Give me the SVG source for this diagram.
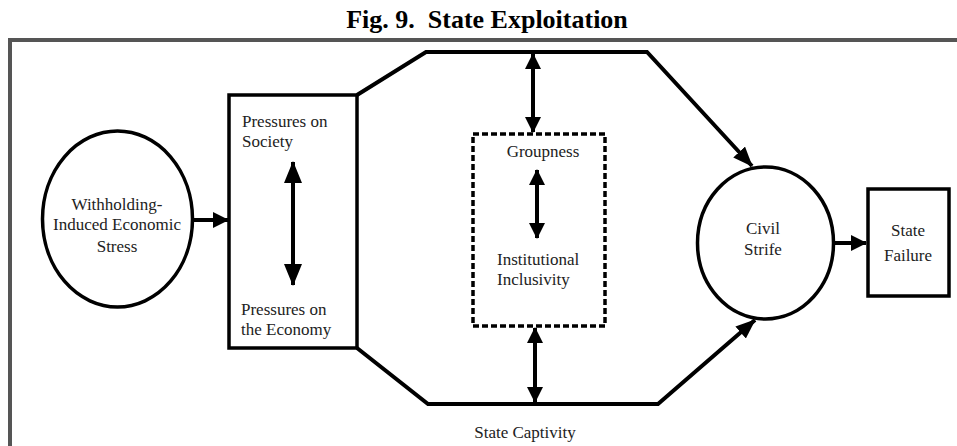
<svg xmlns="http://www.w3.org/2000/svg" width="957" height="446" viewBox="0 0 957 446">
<style>
.t{font-family:"Liberation Serif","Times New Roman",serif;font-size:17px;fill:#222}
.c{text-anchor:middle}
.ttl{font-family:"Liberation Serif","Times New Roman",serif;font-size:26px;font-weight:bold;fill:#000;text-anchor:middle}
.shape{fill:none;stroke:#000;stroke-width:3.5}
.ln{fill:none;stroke:#000;stroke-width:4}
.dash{fill:none;stroke:#000;stroke-width:3.5;stroke-dasharray:6 3}
</style>
<defs>
<marker id="ah" markerUnits="userSpaceOnUse" markerWidth="16" markerHeight="16" viewBox="0 0 16 16" refX="15" refY="8" orient="auto-start-reverse">
<path d="M0,0 L16,8 L0,16 Z" fill="#000"/>
</marker>
<marker id="ahL" markerUnits="userSpaceOnUse" markerWidth="22" markerHeight="18" viewBox="0 0 22 18" refX="21" refY="9" orient="auto-start-reverse">
<path d="M0,0 L22,9 L0,18 Z" fill="#000"/>
</marker>
<marker id="ahS" markerUnits="userSpaceOnUse" markerWidth="20" markerHeight="16" viewBox="0 0 20 16" refX="19" refY="8" orient="auto">
<path d="M0,0 L20,8 L0,16 Z" fill="#000"/>
</marker>
</defs>
<rect width="957" height="446" fill="#fff"/>
<text class="ttl" x="487" y="28">Fig. 9.&#160; State Exploitation</text>
<path d="M10,446 L10,40 L957,40" fill="none" stroke="#555" stroke-width="4"/>

<g id="withholding">
<ellipse class="shape" cx="117.5" cy="219" rx="75" ry="88"/>
<text class="t c" x="117" y="210">Withholding-</text>
<text class="t c" x="117" y="230">Induced Economic</text>
<text class="t c" x="117" y="252">Stress</text>
</g>

<g id="pressures">
<rect class="shape" x="229" y="95" width="128" height="253"/>
<text class="t" x="242" y="127">Pressures on</text>
<text class="t" x="242" y="147">Society</text>
<text class="t" x="241" y="315">Pressures on</text>
<text class="t" x="241" y="335">the Economy</text>
</g>

<g id="groupness">
<rect class="dash" x="473" y="134" width="132" height="192"/>
<text class="t c" x="543" y="157">Groupness</text>
<text class="t" x="497" y="265">Institutional</text>
<text class="t" x="497" y="285">Inclusivity</text>
</g>

<g id="civil-strife">
<ellipse class="shape" cx="765.5" cy="243" rx="68" ry="76"/>
<text class="t c" x="763" y="234">Civil</text>
<text class="t c" x="763" y="255">Strife</text>
</g>

<g id="state-failure">
<rect class="shape" x="868" y="189" width="81" height="107"/>
<text class="t c" x="908" y="236">State</text>
<text class="t c" x="908" y="261">Failure</text>
</g>

<g id="state-captivity">
<text class="t c" x="525" y="438">State Captivity</text>
</g>

<g id="connectors">
<line class="ln" x1="193" y1="220" x2="228" y2="220" marker-end="url(#ah)"/>
<line class="ln" x1="834" y1="243" x2="866" y2="243" marker-end="url(#ah)"/>
<line class="ln" x1="293" y1="162" x2="293" y2="285" marker-start="url(#ahL)" marker-end="url(#ahL)"/>
<line class="ln" x1="533" y1="54" x2="533" y2="132" marker-start="url(#ah)" marker-end="url(#ah)"/>
<line class="ln" x1="537" y1="170" x2="537" y2="238" marker-start="url(#ah)" marker-end="url(#ah)"/>
<line class="ln" x1="535" y1="328" x2="535" y2="402" marker-start="url(#ah)" marker-end="url(#ah)"/>
<polyline class="ln" points="357,95 426,52 647,52 752,166" marker-end="url(#ahS)"/>
<polyline class="ln" points="357,348 428,404 658,404 755,320" marker-end="url(#ahS)"/>
</g>
</svg>
